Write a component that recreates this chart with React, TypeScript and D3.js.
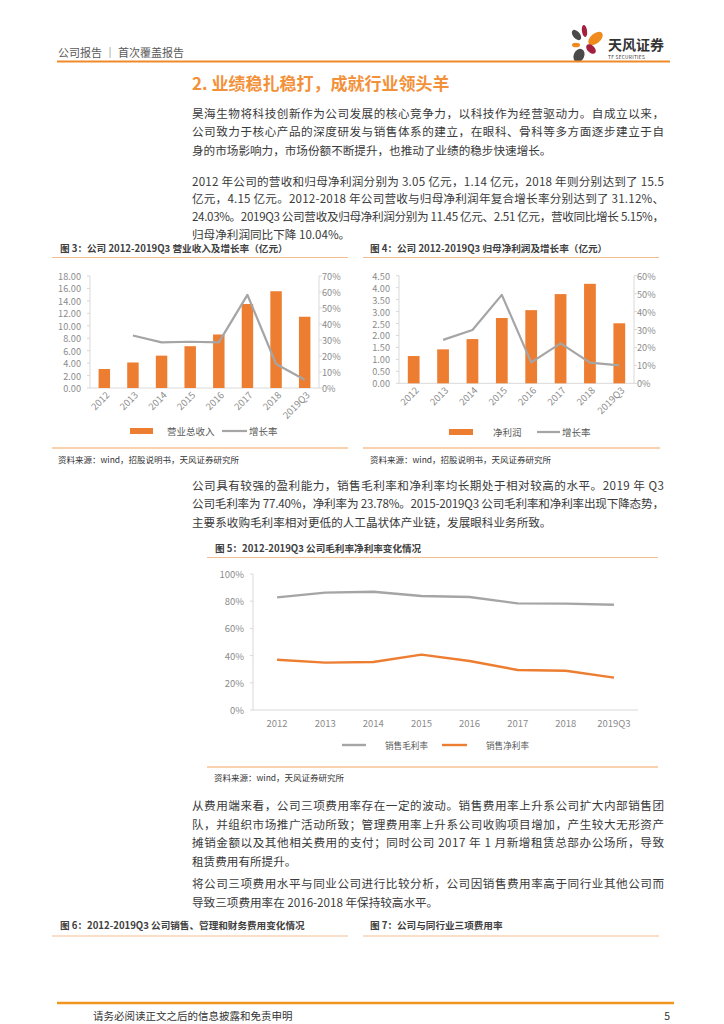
import React from 'react';
import * as d3 from 'd3';

const categories = ['2012', '2013', '2014', '2015', '2016', '2017', '2018', '2019Q3'];
const revenue = [3.05, 4.1, 5.2, 6.72, 8.6, 13.5, 15.55, 11.45];
const revenueGrowth: (number | null)[] = [null, 0.328, 0.285, 0.289, 0.285, 0.582, 0.15, 0.052];
const netProfit = [1.14, 1.42, 1.85, 2.73, 3.06, 3.73, 4.16, 2.51];
const profitGrowth: (number | null)[] = [null, 0.242, 0.297, 0.493, 0.117, 0.223, 0.115, 0.1004];
const grossMargin = [0.828, 0.863, 0.87, 0.838, 0.831, 0.784, 0.782, 0.774];
const netMargin = [0.37, 0.348, 0.353, 0.407, 0.36, 0.294, 0.289, 0.2378];

const revTicks = d3.range(0, 18.01, 2);
const revPctTicks = d3.range(0, 0.701, 0.1);
const npTicks = d3.range(0, 4.51, 0.5);
const npPctTicks = d3.range(0, 0.601, 0.1);
const marginTicks = d3.range(0, 1.001, 0.2);

const para1 = [
  '昊海生物将科技创新作为公司发展的核心竞争力，以科技作为经营驱动力。自成立以来，',
  '公司致力于核心产品的深度研发与销售体系的建立，在眼科、骨科等多方面逐步建立于自',
  '身的市场影响力，市场份额不断提升，也推动了业绩的稳步快速增长。',
];
const para2 = [
  '2012 年公司的营收和归母净利润分别为 3.05 亿元，1.14 亿元，2018 年则分别达到了 15.5',
  '亿元，4.15 亿元。2012-2018 年公司营收与归母净利润年复合增长率分别达到了 31.12%、',
  '24.03%。2019Q3 公司营收及归母净利润分别为 11.45 亿元、2.51 亿元，营收同比增长 5.15%，',
  '归母净利润同比下降 10.04%。',
];
const para3 = [
  '公司具有较强的盈利能力，销售毛利率和净利率均长期处于相对较高的水平。2019 年 Q3',
  '公司毛利率为 77.40%，净利率为 23.78%。2015-2019Q3 公司毛利率和净利率出现下降态势，',
  '主要系收购毛利率相对更低的人工晶状体产业链，发展眼科业务所致。',
];
const para4 = [
  '从费用端来看，公司三项费用率存在一定的波动。销售费用率上升系公司扩大内部销售团',
  '队，并组织市场推广活动所致；管理费用率上升系公司收购项目增加，产生较大无形资产',
  '摊销金额以及其他相关费用的支付；同时公司 2017 年 1 月新增租赁总部办公场所，导致',
  '租赁费用有所提升。',
];
const para5 = [
  '将公司三项费用水平与同业公司进行比较分析，公司因销售费用率高于同行业其他公司而',
  '导致三项费用率在 2016-2018 年保持较高水平。',
];

const FONT = '"Noto Sans CJK SC", "Noto Sans", sans-serif';
const ORANGE = '#ed7d31';
const GRAY = '#a5a5a5';
const AXIS = '#d9d9d9';
const TICK_TXT = '#8c8c8c';
const TEXT = '#3a3a3a';

function Paragraph({ lines, y0, step }: { lines: string[]; y0: number; step: number }) {
  return (
    <g fontFamily={FONT} fontSize={11.6} fill={TEXT}>
      {lines.map((l, i) => {
        const last = i === lines.length - 1;
        return (
          <text
            key={i}
            x={192}
            y={y0 + i * step}
            dominantBaseline="central"
            {...(last ? {} : { textLength: 472, lengthAdjust: 'spacing' })}
          >
            {l}
          </text>
        );
      })}
    </g>
  );
}

function BarLineChart(props: {
  x0: number; x1: number; yTop: number; yBot: number;
  values: number[]; growth: (number | null)[];
  leftMax: number; leftTicks: number[]; rightMax: number; rightTicks: number[];
  legendRect: [number, number]; legendLabel: string; legendLabelX: number;
  legendLine: [number, number]; legendLineLabelX: number; legendY: number;
}) {
  const { x0, x1, yTop, yBot, values, growth } = props;
  const x = d3.scaleBand<string>().domain(categories).range([x0, x1]).paddingInner(0.6).paddingOuter(0.3);
  const yL = d3.scaleLinear().domain([0, props.leftMax]).range([yBot, yTop]);
  const yR = d3.scaleLinear().domain([0, props.rightMax]).range([yBot, yTop]);
  const cx = (c: string) => (x(c) as number) + x.bandwidth() / 2;
  const pts = categories
    .map((c, i) => ({ c, v: growth[i] }))
    .filter((d) => d.v != null) as { c: string; v: number }[];
  const line = d3.line<{ c: string; v: number }>().x((d) => cx(d.c)).y((d) => yR(d.v));
  const fmtL = d3.format('.2f');
  const fmtR = d3.format('.0%');
  return (
    <g fontFamily={FONT}>
      <line x1={x0} x2={x0} y1={yTop} y2={yBot} stroke={AXIS} />
      <line x1={x1} x2={x1} y1={yTop} y2={yBot} stroke={AXIS} />
      <line x1={x0} x2={x1} y1={yBot} y2={yBot} stroke={AXIS} />
      {props.leftTicks.map((t) => (
        <g key={'l' + t}>
          <line x1={x0 - 3} x2={x0} y1={yL(t)} y2={yL(t)} stroke={AXIS} />
          <text x={x0 - 9} y={yL(t)} textAnchor="end" dominantBaseline="central" fontSize={9.2} fill={TICK_TXT}>
            {fmtL(t)}
          </text>
        </g>
      ))}
      {props.rightTicks.map((t) => (
        <g key={'r' + t}>
          <line x1={x1} x2={x1 + 3} y1={yR(t)} y2={yR(t)} stroke={AXIS} />
          <text x={x1 + 3} y={yR(t)} dominantBaseline="central" fontSize={9.2} fill={TICK_TXT}>
            {fmtR(t)}
          </text>
        </g>
      ))}
      {categories.map((c, i) => (
        <rect key={c} x={x(c)} y={yL(values[i])} width={x.bandwidth()} height={yBot - yL(values[i])} fill={ORANGE} />
      ))}
      <path d={line(pts) || ''} fill="none" stroke={GRAY} strokeWidth={2.2} strokeLinejoin="round" />
      {categories.map((c) => (
        <text
          key={'x' + c}
          transform={`translate(${cx(c) + 3},${yBot + 5}) rotate(-45)`}
          textAnchor="end"
          dominantBaseline="central"
          fontSize={9.5}
          fill={TICK_TXT}
        >
          {c}
        </text>
      ))}
      <rect x={props.legendRect[0]} y={props.legendY - 3} width={props.legendRect[1] - props.legendRect[0]} height={6} fill={ORANGE} />
      <text x={props.legendLabelX} y={props.legendY} dominantBaseline="central" fontSize={9.5} fill="#595959">
        {props.legendLabel}
      </text>
      <line x1={props.legendLine[0]} x2={props.legendLine[1]} y1={props.legendY} y2={props.legendY} stroke={GRAY} strokeWidth={2.2} />
      <text x={props.legendLineLabelX} y={props.legendY} dominantBaseline="central" fontSize={9.5} fill="#595959">
        增长率
      </text>
    </g>
  );
}

function MarginChart() {
  const x0 = 253, x1 = 638, yTop = 574, yBot = 710;
  const x = d3.scaleBand<string>().domain(categories).range([x0, x1]);
  const y = d3.scaleLinear().domain([0, 1]).range([yBot, yTop]);
  const cx = (c: string) => (x(c) as number) + x.bandwidth() / 2;
  const line = d3.line<number>().x((_, i) => cx(categories[i])).y((d) => y(d));
  const fmt = d3.format('.0%');
  return (
    <g fontFamily={FONT}>
      <line x1={x0} x2={x0} y1={yTop} y2={yBot} stroke={AXIS} />
      <line x1={x0} x2={x1} y1={yBot} y2={yBot} stroke={AXIS} />
      {marginTicks.map((t) => (
        <g key={t}>
          <line x1={x0 - 3} x2={x0} y1={y(t)} y2={y(t)} stroke={AXIS} />
          <text x={x0 - 9} y={y(t)} textAnchor="end" dominantBaseline="central" fontSize={9.5} fill={TICK_TXT}>
            {fmt(t)}
          </text>
        </g>
      ))}
      {categories.map((c) => (
        <text key={c} x={cx(c)} y={yBot + 13} textAnchor="middle" dominantBaseline="central" fontSize={9.5} fill={TICK_TXT}>
          {c}
        </text>
      ))}
      <path d={line(grossMargin) || ''} fill="none" stroke={GRAY} strokeWidth={2.4} strokeLinejoin="round" />
      <path d={line(netMargin) || ''} fill="none" stroke={ORANGE} strokeWidth={2.4} strokeLinejoin="round" />
      <line x1={342} x2={366} y1={745} y2={745} stroke={GRAY} strokeWidth={2.4} />
      <text x={385} y={745} dominantBaseline="central" fontSize={8.6} fill="#595959">销售毛利率</text>
      <line x1={442} x2={467} y1={745} y2={745} stroke={ORANGE} strokeWidth={2.4} />
      <text x={486} y={745} dominantBaseline="central" fontSize={8.6} fill="#595959">销售净利率</text>
    </g>
  );
}

function FigTitle({ x, y, text }: { x: number; y: number; text: string }) {
  return (
    <text x={x} y={y} dominantBaseline="central" fontFamily={FONT} fontSize={9.6} fontWeight={700} fill="#404040">
      {text}
    </text>
  );
}

function Source({ x, y, text }: { x: number; y: number; text: string }) {
  return (
    <text x={x} y={y} dominantBaseline="central" fontFamily={FONT} fontSize={8.5} fill="#333">
      {text}
    </text>
  );
}

function Rule({ x1, x2, y, color = '#f5ad6e', w = 1.2 }: { x1: number; x2: number; y: number; color?: string; w?: number }) {
  return <line x1={x1} x2={x2} y1={y} y2={y} stroke={color} strokeWidth={w} />;
}

function Logo() {
  return (
    <g>
      <ellipse cx={584.5} cy={31} rx={2.6} ry={6} transform="rotate(-8 584.5 31)" fill="#a3203f" />
      <ellipse cx={595.5} cy={38.5} rx={5} ry={8.5} transform="rotate(50 595.5 38.5)" fill="#f08a1c" />
      <ellipse cx={576.5} cy={35} rx={3.5} ry={6} transform="rotate(-40 576.5 35)" fill="#4a4a4a" />
      <ellipse cx={576} cy={45} rx={4} ry={2.3} fill="#f08a1c" />
      <ellipse cx={591} cy={49} rx={3.6} ry={5.8} transform="rotate(-45 591 49)" fill="#a3203f" />
      <ellipse cx={579} cy={55.5} rx={5.2} ry={7} transform="rotate(25 579 55.5)" fill="#4a4a4a" />
      <text x={608} y={43.5} dominantBaseline="central" fontFamily={FONT} fontSize={14} fontWeight={700} fill="#333">天风证券</text>
      <text x={608} y={56.5} dominantBaseline="central" fontFamily={FONT} fontSize={4.8} fill="#333" letterSpacing={0.3}>TF SECURITIES</text>
    </g>
  );
}

export default function App() {
  return (
    <svg
      width={724}
      height={1024}
      viewBox="0 0 724 1024"
      style={{ position: 'absolute', left: 0, top: 0, display: 'block', background: '#fff' }}
    >
      <rect x={0} y={0} width={724} height={1024} fill="#fff" />
      {/* header */}
      <text x={58} y={52} dominantBaseline="central" fontFamily={FONT} fontSize={11} fill="#595959">
        公司报告 ｜ 首次覆盖报告
      </text>
      <Logo />
      <Rule x1={57} x2={670} y={61.5} color="#f0892a" w={2} />

      <text x={192} y={82} dominantBaseline="central" fontFamily={FONT} fontSize={17} fontWeight={700} fill="#f3913a">
        2. 业绩稳扎稳打，成就行业领头羊
      </text>

      <Paragraph lines={para1} y0={113} step={18.3} />
      <Paragraph lines={para2} y0={180.5} step={17.8} />

      {/* figure 3 & 4 */}
      <FigTitle x={60} y={248} text="图 3：公司 2012-2019Q3 营业收入及增长率（亿元）" />
      <FigTitle x={370} y={248} text="图 4：公司 2012-2019Q3 归母净利润及增长率（亿元）" />
      <Rule x1={52} x2={348} y={257.5} color="#f6bd8f" />
      <Rule x1={363} x2={659} y={257.5} color="#f6bd8f" />

      <BarLineChart
        x0={90} x1={319} yTop={276} yBot={388}
        values={revenue} growth={revenueGrowth}
        leftMax={18} leftTicks={revTicks} rightMax={0.7} rightTicks={revPctTicks}
        legendRect={[130, 153]} legendLabel="营业总收入" legendLabelX={167}
        legendLine={[222, 247]} legendLineLabelX={249} legendY={431}
      />
      <BarLineChart
        x0={399} x1={634} yTop={275.7} yBot={383.3}
        values={netProfit} growth={profitGrowth}
        leftMax={4.5} leftTicks={npTicks} rightMax={0.6} rightTicks={npPctTicks}
        legendRect={[449, 473]} legendLabel="净利润" legendLabelX={493}
        legendLine={[537, 560]} legendLineLabelX={562} legendY={432}
      />
      <Rule x1={52} x2={348} y={448} color="#f5a45e" />
      <Rule x1={363} x2={660} y={448} color="#f5a45e" />
      <Source x={58} y={458.5} text="资料来源：wind，招股说明书，天风证券研究所" />
      <Source x={370} y={458.5} text="资料来源：wind，招股说明书，天风证券研究所" />

      <Paragraph lines={para3} y0={485} step={18.3} />

      {/* figure 5 */}
      <FigTitle x={215} y={548} text="图 5：2012-2019Q3 公司毛利率净利率变化情况" />
      <Rule x1={207} x2={658} y={557.5} color="#f6bd8f" />
      <MarginChart />
      <Rule x1={207} x2={658} y={767} color="#f5a45e" />
      <Source x={214} y={777} text="资料来源：wind，天风证券研究所" />

      <Paragraph lines={para4} y0={805} step={18.6} />
      <Paragraph lines={para5} y0={883} step={18.6} />

      <FigTitle x={60} y={925} text="图 6：2012-2019Q3 公司销售、管理和财务费用变化情况" />
      <FigTitle x={370} y={925} text="图 7：公司与同行业三项费用率" />
      <Rule x1={52} x2={348} y={936} color="#f6bd8f" />
      <Rule x1={363} x2={659} y={936} color="#f6bd8f" />

      {/* footer */}
      <Rule x1={57} x2={674} y={1003} color="#f0961e" w={2.5} />
      <text x={93} y={1015.5} dominantBaseline="central" fontFamily={FONT} fontSize={10.5} fill="#333">
        请务必阅读正文之后的信息披露和免责申明
      </text>
      <text x={670} y={1015.5} textAnchor="end" dominantBaseline="central" fontFamily={FONT} fontSize={10.5} fill="#333">
        5
      </text>
    </svg>
  );
}
